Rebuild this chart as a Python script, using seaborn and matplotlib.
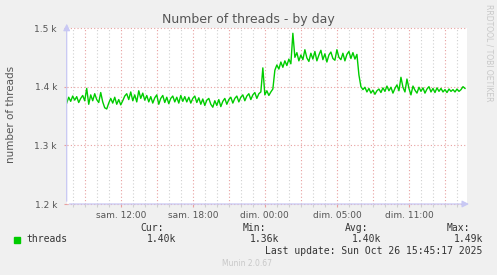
import numpy as np
import pandas as pd
import matplotlib
matplotlib.use("Agg")
import matplotlib.pyplot as plt
from matplotlib.patches import Rectangle
import seaborn as sns

# ---------------- data ----------------
title = "Number of threads - by day"
ylabel = "number of threads"
series_name = "threads"
line_color = "#00CC00"

# samples every 10 minutes (hours since left edge)
baseline = [
    1372, 1382, 1375, 1384, 1377, 1383, 1373, 1380, 1385, 1376,
    1397, 1370, 1386, 1376, 1388, 1378, 1373, 1390, 1374, 1364,
    1362, 1372, 1380, 1372, 1382, 1370, 1378, 1369, 1376, 1384,
    1388, 1378, 1391, 1376, 1386, 1374, 1393, 1380, 1389, 1377,
    1385, 1374, 1383, 1372, 1381, 1386, 1370, 1380, 1385, 1373,
    1382, 1371, 1380, 1384, 1374, 1382, 1372, 1385, 1375, 1383,
    1374, 1382, 1372, 1380, 1384, 1373, 1381, 1370, 1379, 1368,
    1377, 1380, 1370, 1365, 1376, 1368, 1378, 1366, 1375, 1380,
    1370, 1378, 1382, 1372, 1380, 1384, 1374, 1382, 1386, 1376,
    1384, 1388, 1378, 1386, 1390, 1380, 1388, 1391,
]
transition = [1432, 1386, 1393, 1385, 1391, 1396,
              1428, 1437, 1430, 1442, 1433, 1444, 1436, 1447, 1439,
              1491]
high = [
    1450, 1458, 1444, 1454, 1446, 1463, 1449, 1443, 1457, 1447,
    1460, 1444, 1454, 1462, 1446, 1456, 1442, 1454, 1459, 1448,
    1445, 1463, 1450, 1446, 1457, 1444, 1455, 1460, 1448, 1458,
    1447, 1455,
]
drop = [1420, 1400]
low = [
    1395, 1399, 1391, 1397, 1389, 1394, 1387, 1393, 1396, 1390,
    1398, 1392, 1401, 1393, 1399, 1389, 1397, 1403, 1393, 1416,
    1399, 1391, 1413, 1397, 1386, 1401, 1394, 1389, 1399, 1392,
    1398, 1389, 1396, 1400, 1391, 1397, 1390, 1398, 1392, 1397,
    1391, 1395, 1390, 1396, 1392, 1395, 1391, 1396, 1392, 1395,
    1400, 1397,
]
values = baseline + transition + high + drop + low
hours = [i / 6 for i in range(len(values))]

x_tick_pos = [4.5, 10.5, 16.5, 22.5, 28.5]
x_tick_labels = ["sam. 12:00", "sam. 18:00", "dim. 00:00", "dim. 05:00", "dim. 11:00"]
y_ticks = [1200, 1300, 1400, 1500]
y_tick_labels = ["1.2 k", "1.3 k", "1.4 k", "1.5 k"]

stat_headers = ["Cur:", "Min:", "Avg:", "Max:"]
stat_values = ["1.40k", "1.36k", "1.40k", "1.49k"]
last_update = "Last update: Sun Oct 26 15:45:17 2025"
side_text = "RRDTOOL / TOBI OETIKER"
footer = "Munin 2.0.67"

# ---------------- figure ----------------
W, H = 497, 275
fig = plt.figure(figsize=(W / 100, H / 100), dpi=100, facecolor="#F0F0F0")

def fx(x):
    return x / W

def fy(y):
    return 1 - y / H

L, R, T, B = 66.7, 467, 28, 204
ax = fig.add_axes([fx(L), fy(B), (R - L) / W, (B - T) / H])
ax.set_facecolor("white")

df = pd.DataFrame({"hours": hours, "threads": values})

ax.set_xlim(0, 400 / 12)
ax.set_ylim(1200, 1500)

red_grid = "#E8A0A0"
grey_grid = "#D0D0D0"
grid_hours = np.arange(0.5, 33.4, 1.0)
major_hours = [h for h in grid_hours if abs((h - 1.5) / 3 - round((h - 1.5) / 3)) < 1e-6]
for h in grid_hours:
    major = h in major_hours
    ax.axvline(h, color=red_grid if major else grey_grid,
               lw=0.8, ls=(0, (1, 2)), zorder=1)
for yv in [1200, 1300, 1400, 1500]:
    ax.axhline(yv, color=red_grid, lw=0.8, ls=(0, (1, 2)), zorder=2,
               clip_on=False)

sns.lineplot(data=df, x="hours", y="threads", ax=ax, color=line_color,
             lw=1.0, zorder=3, legend=False)

for s in ax.spines.values():
    s.set_visible(False)

ax.set_xticks(x_tick_pos)
ax.set_xticklabels(x_tick_labels)
ax.set_xticks([h for h in grid_hours if h not in x_tick_pos], minor=True)
ax.set_yticks(y_ticks)
ax.set_yticklabels(y_tick_labels)
ax.tick_params(axis="both", labelsize=6.5, colors="#555555")
ax.tick_params(axis="x", which="major", length=2, width=0.8, color=red_grid, pad=3)
ax.tick_params(axis="x", which="minor", length=2, width=0.8, color=grey_grid)
ax.tick_params(axis="y", length=2, width=0.8, color=red_grid, pad=5)
ax.set_xlabel("")
ax.set_ylabel("")

# axes lines with arrows
axis_col = "#C8C8F4"
ax.annotate("", xy=(0, 1.04), xytext=(0, 0), xycoords="axes fraction",
            arrowprops=dict(arrowstyle="-|>,head_length=0.4,head_width=0.2",
                            color=axis_col, lw=0.9), annotation_clip=False)
ax.annotate("", xy=(1.012, 0), xytext=(0, 0), xycoords="axes fraction",
            arrowprops=dict(arrowstyle="-|>,head_length=0.4,head_width=0.2",
                            color=axis_col, lw=0.9), annotation_clip=False)

# texts
fig.text(fx(248), fy(19.5), title, ha="center", va="center",
         fontsize=9, color="#555555")
fig.text(fx(11), fy(114), ylabel, ha="center", va="center",
         rotation=90, fontsize=7.5, color="#555555")
fig.text(fx(488.5), fy(53), side_text, ha="center", va="center",
         rotation=270, fontsize=5.5, color="#C8C8C8")

mono = "DejaVu Sans Mono"
fig.patches.append(Rectangle((fx(14), fy(243)), 6 / W, 6 / H,
                             transform=fig.transFigure, color=line_color))
fig.text(fx(26.5), fy(239.5), series_name, ha="left", va="center",
         fontsize=7, family=mono, color="#333333")

header_right = [163.5, 266, 368.5, 470.5]
for hx, hd, val in zip(header_right, stat_headers, stat_values):
    fig.text(fx(hx), fy(228), hd, ha="right", va="center",
             fontsize=7, family=mono, color="#333333")
    fig.text(fx(hx + 13), fy(239.5), val, ha="right", va="center",
             fontsize=7, family=mono, color="#333333")
fig.text(fx(482.5), fy(251), last_update, ha="right", va="center",
         fontsize=7, family=mono, color="#333333")
fig.text(fx(247.5), fy(264), footer, ha="center", va="center",
         fontsize=5.5, color="#C8C8C8")

fig.savefig("out.png", dpi=100, facecolor=fig.get_facecolor())
